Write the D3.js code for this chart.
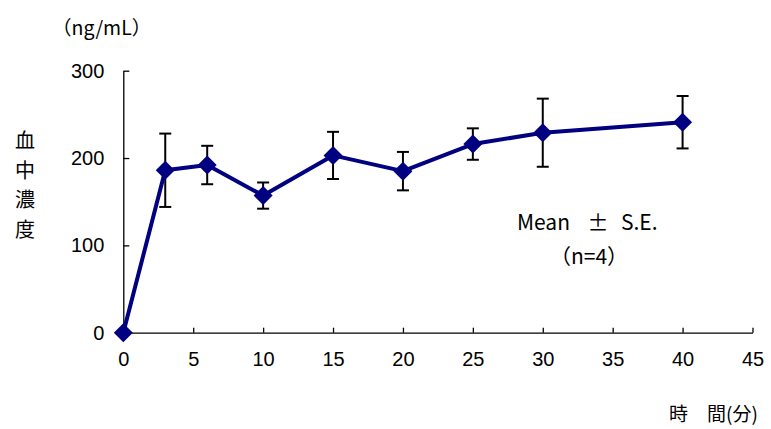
<!DOCTYPE html>
<html>
<head>
<meta charset="utf-8">
<script src="https://cdn.jsdelivr.net/npm/d3@7"></script>
<style>
  body { margin: 0; background: #fff; }
  text { font-family: "Liberation Sans", "Noto Sans CJK JP", sans-serif; fill: #000; }
  .jp { font-family: "Noto Sans CJK JP", sans-serif; }
</style>
</head>
<body>
<div id="chart"></div>
<script>
// time (min), mean blood concentration (ng/mL), standard error
var times = [0, 3, 6, 10, 15, 20, 25, 30, 40];
var means = [0, 186, 192, 157, 203, 185, 216, 229, 241];
var errors = [0, 42, 22, 15, 27, 22, 18, 39, 30];
var xTicks = [0, 5, 10, 15, 20, 25, 30, 35, 40, 45];
var yTicks = [0, 100, 200, 300];

var width = 771, height = 429;

var svg = d3.select("#chart").append("svg")
    .attr("width", width)
    .attr("height", height);

var x = d3.scaleLinear().domain([0, 45]).range([123.3, 752.5]);
var y = d3.scaleLinear().domain([0, 300]).range([332.7, 70.7]);

var data = times.map((t, i) => ({ t: t, v: means[i], e: errors[i] }));

// axes
var xAxis = svg.append("g")
    .attr("transform", "translate(0," + y(0) + ")")
    .call(d3.axisBottom(x).tickValues(xTicks).tickSizeInner(-5).tickSizeOuter(0).tickPadding(19));
var yAxis = svg.append("g")
    .attr("transform", "translate(" + x(0) + ",0)")
    .call(d3.axisLeft(y).tickValues(yTicks).tickSizeInner(-6).tickSizeOuter(0).tickPadding(19));

[xAxis, yAxis].forEach(function(g) {
    g.selectAll("path, line").attr("stroke", "#000").attr("stroke-width", 1.3);
    g.selectAll("text").style("font-size", "20px").attr("fill", "#000");
});

// error bars
var eb = svg.append("g").selectAll("g")
    .data(data.filter(d => d.e > 0))
    .enter().append("g")
    .attr("stroke", "#000")
    .attr("stroke-width", 2);
eb.append("line")
    .attr("x1", d => x(d.t)).attr("x2", d => x(d.t))
    .attr("y1", d => y(d.v + d.e)).attr("y2", d => y(d.v - d.e));
eb.append("line")
    .attr("x1", d => x(d.t) - 6).attr("x2", d => x(d.t) + 6)
    .attr("y1", d => y(d.v + d.e)).attr("y2", d => y(d.v + d.e));
eb.append("line")
    .attr("x1", d => x(d.t) - 6).attr("x2", d => x(d.t) + 6)
    .attr("y1", d => y(d.v - d.e)).attr("y2", d => y(d.v - d.e));

// line
var line = d3.line().x(d => x(d.t)).y(d => y(d.v));
svg.append("path")
    .datum(data)
    .attr("d", line)
    .attr("fill", "none")
    .attr("stroke", "#000080")
    .attr("stroke-width", 4)
    .attr("stroke-linejoin", "round");

// diamond markers
svg.selectAll(".pt")
    .data(data)
    .enter().append("path")
    .attr("class", "pt")
    .attr("transform", d => "translate(" + x(d.t) + "," + y(d.v) + ")")
    .attr("d", "M0,-9.5L9.5,0L0,9.5L-9.5,0Z")
    .attr("fill", "#000080");

// labels
svg.append("text")
    .attr("class", "jp")
    .attr("x", 52).attr("y", 35)
    .style("font-size", "19.5px")
    .text("（ng/mL）");

var yLabel = ["血", "中", "濃", "度"];
svg.selectAll(".ylab")
    .data(yLabel)
    .enter().append("text")
    .attr("class", "ylab jp")
    .attr("x", 25)
    .attr("y", (d, i) => 148 + i * 29.5)
    .attr("text-anchor", "middle")
    .style("font-size", "20px")
    .text(d => d);

svg.append("text")
    .attr("class", "jp")
    .attr("x", 669).attr("y", 421)
    .style("font-size", "19px")
    .text("時　間(分)");

// Mean ± S.E. note
var note = svg.append("g").attr("class", "jp").style("font-size", "21px");
note.append("text").attr("class", "jp").attr("x", 517).attr("y", 230).text("Mean");
note.append("text").attr("class", "jp").attr("x", 598).attr("y", 230)
    .attr("text-anchor", "middle").text("±");
note.append("text").attr("class", "jp").attr("x", 621).attr("y", 230).text("S.E.");
note.append("text").attr("class", "jp").attr("x", 589).attr("y", 264)
    .attr("text-anchor", "middle").text("（n=4）");
</script>
</body>
</html>
